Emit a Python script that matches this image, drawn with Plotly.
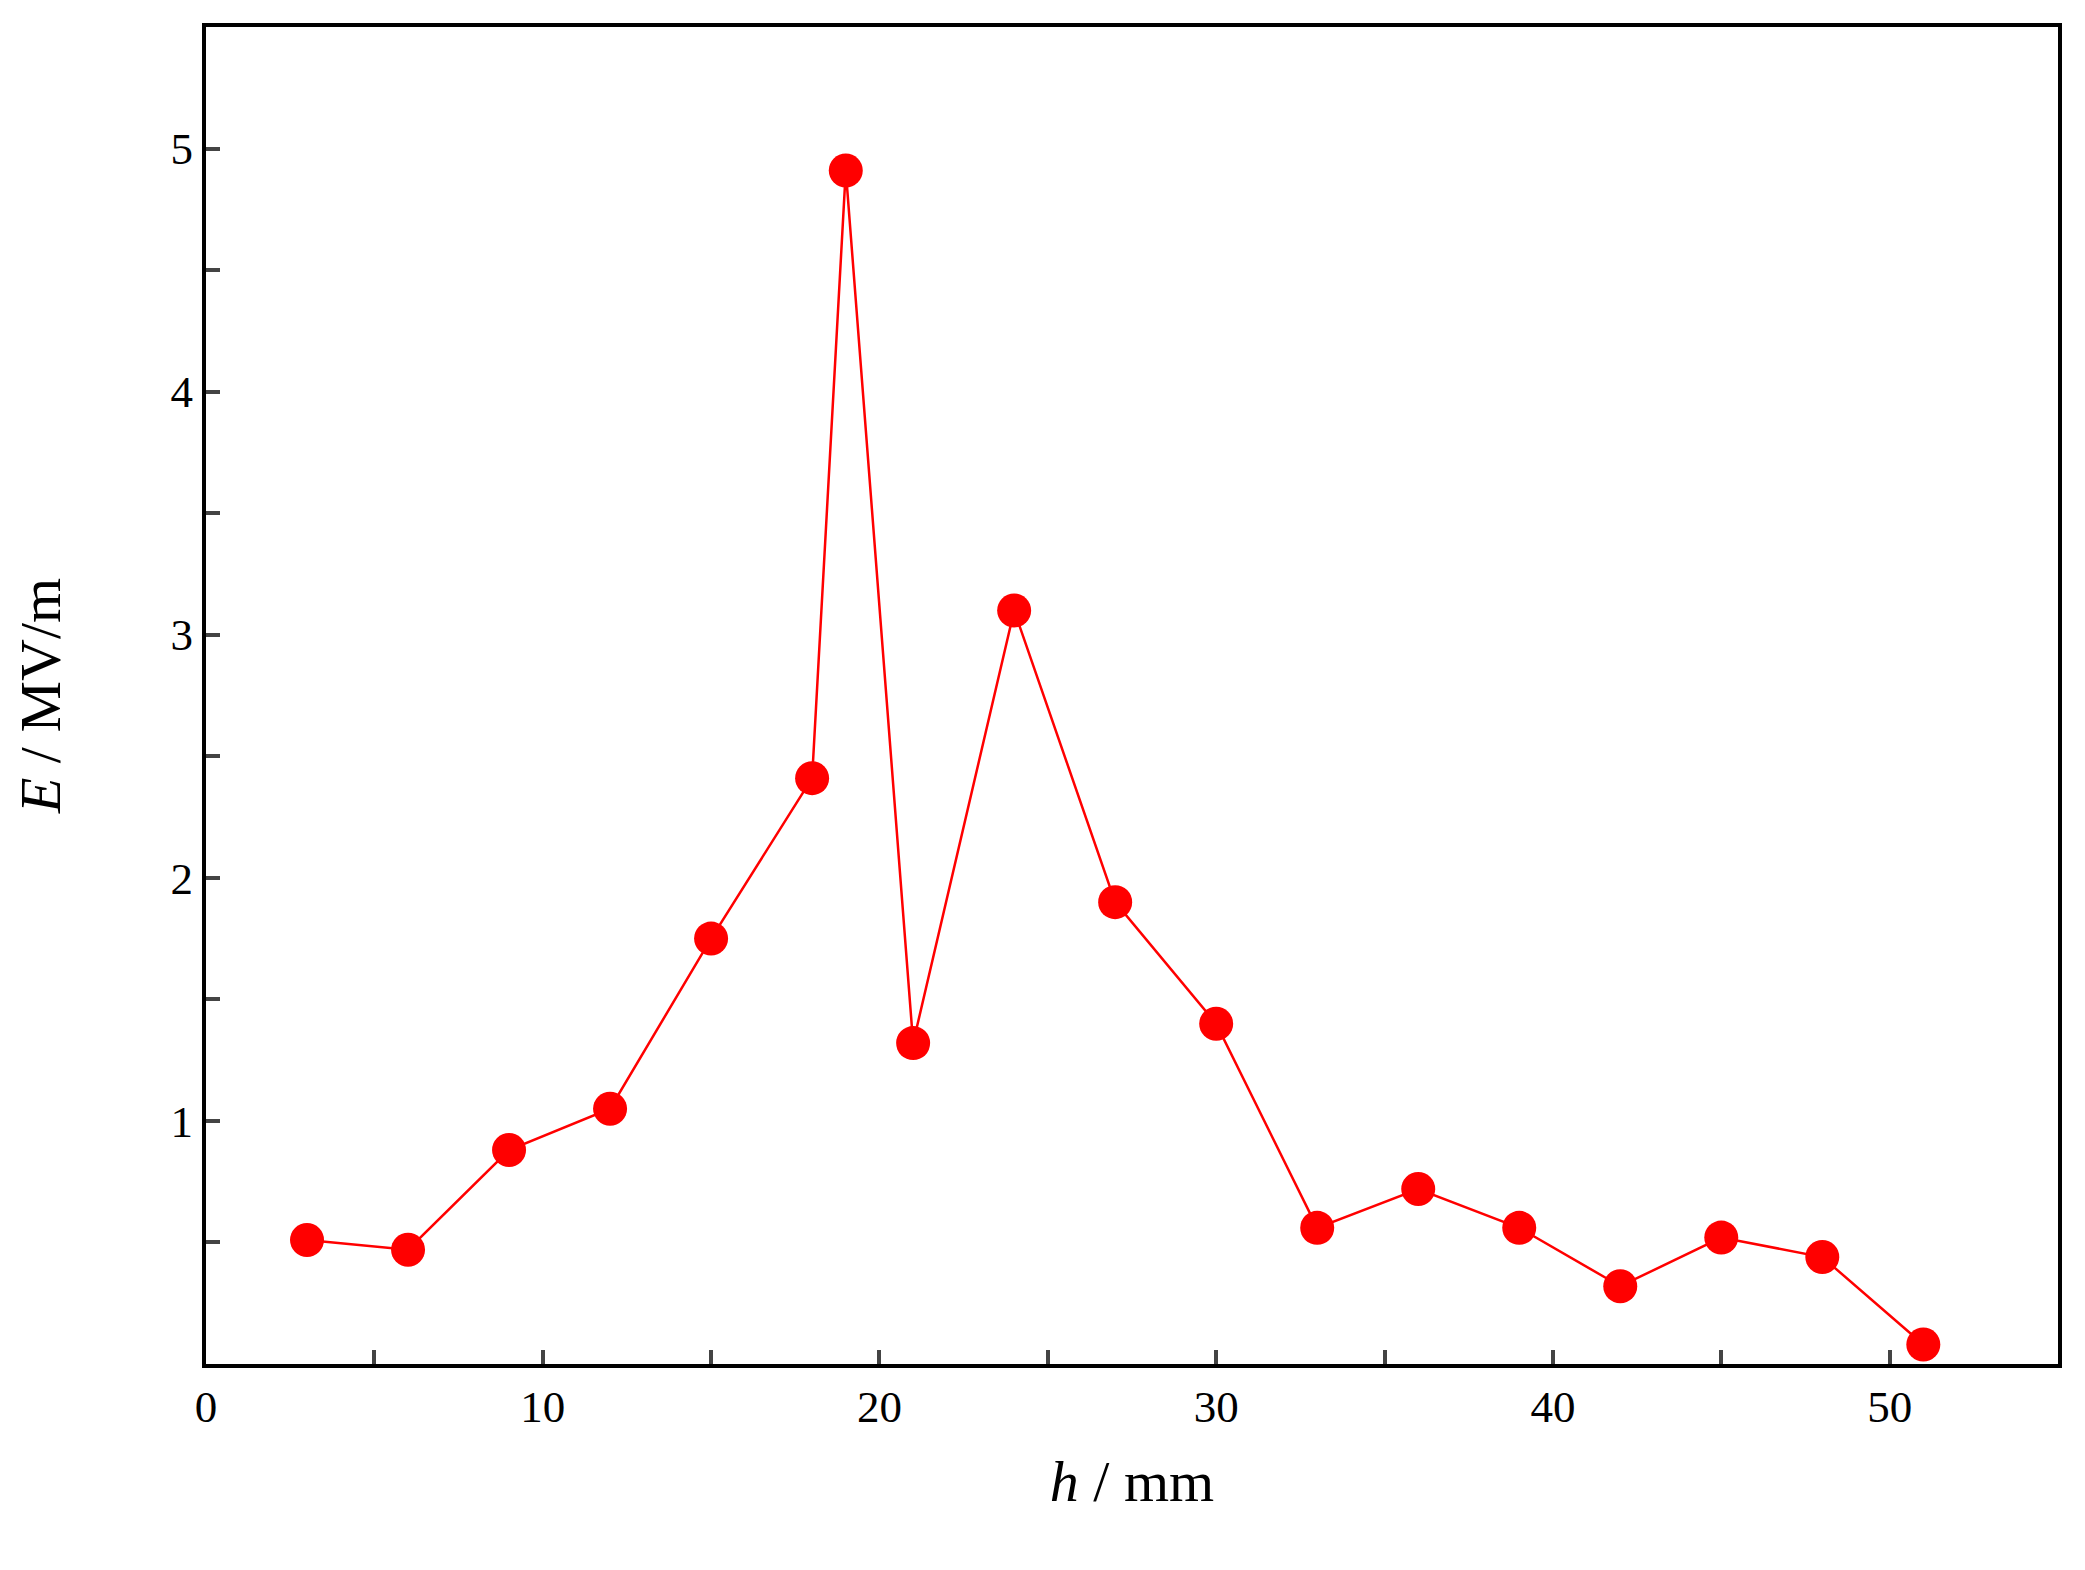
import plotly.graph_objects as go

h = [3, 6, 9, 12, 15, 18, 19, 21, 24, 27, 30, 33, 36, 39, 42, 45, 48, 51]
E = [0.51, 0.47, 0.88, 1.05, 1.75, 2.41, 4.91, 1.32, 3.10, 1.90, 1.40, 0.56, 0.72, 0.56, 0.32, 0.52, 0.44, 0.08]

fig = go.Figure(go.Scatter(x=h, y=E, mode="lines+markers",
    line=dict(color="#ff0000", width=2.5),
    marker=dict(color="#ff0000", size=34)))

font = dict(family="Liberation Serif", size=45, color="black")
fig.update_layout(
    width=2085, height=1570, plot_bgcolor="white", paper_bgcolor="white",
    margin=dict(l=198, r=35, t=19, b=214), showlegend=False, font=font)
fig.update_xaxes(range=[0, 55], tickvals=[0, 10, 20, 30, 40, 50], ticks="inside",
    ticklen=14, tickwidth=3.5, showline=True, linewidth=4, linecolor="black", mirror=True,
    showgrid=False, zeroline=False,
    minor=dict(tickvals=[5, 15, 25, 35, 45], ticks="inside", ticklen=14, tickwidth=3.5),
    title=dict(text="<i>h</i> / mm", font=dict(size=58), standoff=30))
fig.update_yaxes(range=[0, 5.5], tickvals=[1, 2, 3, 4, 5], ticks="inside",
    ticklen=14, tickwidth=3.5, showline=True, linewidth=4, linecolor="black", mirror=True,
    showgrid=False, zeroline=False,
    minor=dict(tickvals=[0.5, 1.5, 2.5, 3.5, 4.5], ticks="inside", ticklen=14, tickwidth=3.5),
    title=dict(text="<i>E</i> / MV/m", font=dict(size=58), standoff=95))
fig.write_html("out.html")
